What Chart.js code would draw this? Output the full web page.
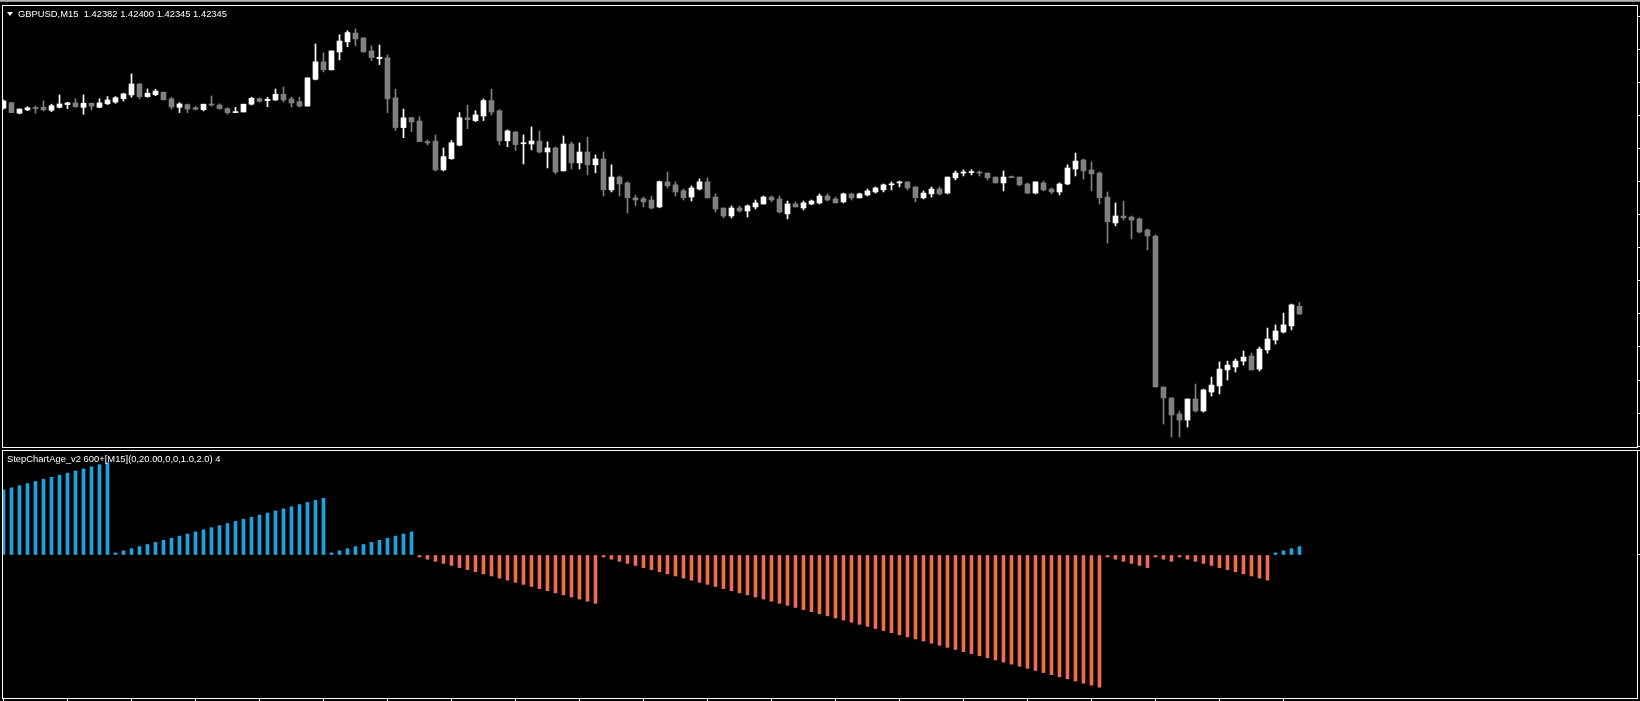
<!DOCTYPE html>
<html lang="en">
<head>
  <meta charset="UTF-8">
  <title>GBPUSD,M15 - StepChartAge</title>
  <script src="https://cdn.jsdelivr.net/npm/chart.js"></script>
  <style>
    html, body { margin: 0; padding: 0; background: #000; overflow: hidden; }
    body { width: 1640px; height: 701px; position: relative; }
    .topbar { position: absolute; left: 0; top: 0; width: 1640px; height: 2px; background: linear-gradient(#d0d0d0, #707070); }
    canvas { position: absolute; left: 0; }
    #priceChart { top: 0; }
    #ageChart { top: 449px; }
    .caption { position: absolute; color: #fff; font: 9.4px "Liberation Sans", Arial, sans-serif; line-height: 11px; white-space: pre; }
    #priceCaption { left: 18px; top: 8px; }
    #ageCaption { left: 7px; top: 453px; }
    .menu { position: absolute; left: 7px; top: 12px; width: 0; height: 0;
            border-left: 3px solid transparent; border-right: 3px solid transparent; border-top: 4px solid #fff; }
  </style>
</head>
<body>
  <div class="topbar"></div>
  <canvas id="priceChart" width="1640" height="449"></canvas>
  <canvas id="ageChart" width="1640" height="252"></canvas>
  <div class="menu"></div>
  <div class="caption" id="priceCaption"></div>
  <div class="caption" id="ageCaption"></div>
  <script>
    // GBPUSD M15, 163 bars, oldest first
    const symbol = 'GBPUSD';
    const period = 'M15';

    const opens = [
      1.43323, 1.43349, 1.43299, 1.43315, 1.43325, 1.43327, 1.43313, 1.43327, 1.43340, 1.43348,
      1.43327, 1.43346, 1.43327, 1.43344, 1.43352, 1.43368, 1.43386, 1.43438, 1.43378, 1.43387,
      1.43399, 1.43367, 1.43327, 1.43340, 1.43325, 1.43316, 1.43342, 1.43338, 1.43321, 1.43302,
      1.43305, 1.43342, 1.43368, 1.43359, 1.43362, 1.43389, 1.43367, 1.43354, 1.43333, 1.43460,
      1.43543, 1.43505, 1.43590, 1.43638, 1.43680, 1.43657, 1.43595, 1.43558, 1.43562, 1.43372,
      1.43231, 1.43278, 1.43262, 1.43164, 1.43167, 1.43030, 1.43083, 1.43147, 1.43277, 1.43264,
      1.43286, 1.43359, 1.43311, 1.43168, 1.43210, 1.43154, 1.43153, 1.43167, 1.43115, 1.43134,
      1.43025, 1.43153, 1.43063, 1.43115, 1.43054, 1.43082, 1.42935, 1.42996, 1.42968, 1.42897,
      1.42893, 1.42887, 1.42854, 1.42973, 1.42959, 1.42931, 1.42901, 1.42939, 1.42973, 1.42901,
      1.42849, 1.42811, 1.42849, 1.42835, 1.42854, 1.42868, 1.42901, 1.42892, 1.42821, 1.42868,
      1.42849, 1.42868, 1.42873, 1.42906, 1.42892, 1.42878, 1.42916, 1.42897, 1.42911, 1.42925,
      1.42935, 1.42959, 1.42968, 1.42973, 1.42949, 1.42897, 1.42916, 1.42939, 1.42920, 1.42992,
      1.43015, 1.43017, 1.43020, 1.43015, 1.42996, 1.42968, 1.42998, 1.42996, 1.42963, 1.42920,
      1.42968, 1.42939, 1.42925, 1.42963, 1.43034, 1.43077, 1.43030, 1.43015, 1.42901, 1.42778,
      1.42811, 1.42806, 1.42797, 1.42745, 1.42716, 1.41999, 1.41947, 1.41871, 1.41842, 1.41942,
      1.41885, 1.41975, 1.42004, 1.42080, 1.42094, 1.42122, 1.42146, 1.42084, 1.42175, 1.42222,
      1.42260, 1.42289, 1.42382
    ];
    const highs = [
      1.43362, 1.43352, 1.43319, 1.43330, 1.43333, 1.43357, 1.43342, 1.43386, 1.43351, 1.43368,
      1.43386, 1.43348, 1.43368, 1.43378, 1.43378, 1.43394, 1.43486, 1.43441, 1.43414, 1.43413,
      1.43399, 1.43375, 1.43349, 1.43343, 1.43332, 1.43342, 1.43381, 1.43344, 1.43325, 1.43327,
      1.43342, 1.43375, 1.43372, 1.43375, 1.43414, 1.43424, 1.43375, 1.43375, 1.43467, 1.43628,
      1.43585, 1.43595, 1.43672, 1.43691, 1.43699, 1.43657, 1.43619, 1.43623, 1.43576, 1.43414,
      1.43319, 1.43278, 1.43283, 1.43172, 1.43196, 1.43134, 1.43169, 1.43302, 1.43338, 1.43311,
      1.43367, 1.43414, 1.43316, 1.43220, 1.43213, 1.43196, 1.43234, 1.43215, 1.43163, 1.43139,
      1.43191, 1.43163, 1.43158, 1.43186, 1.43101, 1.43115, 1.43054, 1.43001, 1.42973, 1.42911,
      1.42901, 1.42906, 1.42977, 1.43020, 1.42973, 1.42939, 1.42954, 1.42987, 1.42992, 1.42916,
      1.42849, 1.42859, 1.42859, 1.42864, 1.42887, 1.42906, 1.42906, 1.42906, 1.42882, 1.42878,
      1.42882, 1.42887, 1.42916, 1.42916, 1.42901, 1.42920, 1.42920, 1.42920, 1.42939, 1.42949,
      1.42963, 1.42973, 1.42977, 1.42973, 1.42949, 1.42930, 1.42949, 1.42949, 1.42996, 1.43025,
      1.43030, 1.43031, 1.43025, 1.43015, 1.42996, 1.43025, 1.43001, 1.42996, 1.42968, 1.42973,
      1.42977, 1.42944, 1.42968, 1.43054, 1.43110, 1.43082, 1.43068, 1.43020, 1.42925, 1.42873,
      1.42882, 1.42811, 1.42802, 1.42749, 1.42721, 1.41999, 1.41947, 1.41885, 1.41942, 1.42013,
      1.41989, 1.42046, 1.42118, 1.42122, 1.42132, 1.42170, 1.42160, 1.42189, 1.42279, 1.42294,
      1.42350, 1.42393, 1.42400
    ];
    const lows = [
      1.43319, 1.43302, 1.43296, 1.43311, 1.43299, 1.43310, 1.43307, 1.43324, 1.43321, 1.43327,
      1.43294, 1.43315, 1.43325, 1.43340, 1.43346, 1.43357, 1.43375, 1.43367, 1.43375, 1.43382,
      1.43362, 1.43319, 1.43302, 1.43302, 1.43315, 1.43310, 1.43333, 1.43318, 1.43294, 1.43302,
      1.43305, 1.43338, 1.43352, 1.43330, 1.43359, 1.43352, 1.43329, 1.43329, 1.43333, 1.43457,
      1.43495, 1.43505, 1.43552, 1.43615, 1.43619, 1.43589, 1.43549, 1.43530, 1.43302, 1.43217,
      1.43183, 1.43211, 1.43164, 1.43148, 1.43025, 1.43025, 1.43080, 1.43144, 1.43226, 1.43259,
      1.43264, 1.43291, 1.43148, 1.43140, 1.43122, 1.43058, 1.43125, 1.43110, 1.43039, 1.43011,
      1.43025, 1.43034, 1.43034, 1.43006, 1.43016, 1.42906, 1.42925, 1.42906, 1.42825, 1.42859,
      1.42854, 1.42844, 1.42850, 1.42944, 1.42906, 1.42887, 1.42882, 1.42935, 1.42897, 1.42830,
      1.42802, 1.42802, 1.42830, 1.42806, 1.42844, 1.42868, 1.42878, 1.42825, 1.42797, 1.42854,
      1.42840, 1.42864, 1.42868, 1.42882, 1.42873, 1.42873, 1.42887, 1.42897, 1.42906, 1.42920,
      1.42925, 1.42935, 1.42949, 1.42935, 1.42878, 1.42892, 1.42901, 1.42911, 1.42916, 1.42982,
      1.43001, 1.43006, 1.43001, 1.42982, 1.42968, 1.42930, 1.42993, 1.42954, 1.42916, 1.42916,
      1.42930, 1.42916, 1.42911, 1.42959, 1.43001, 1.42987, 1.42930, 1.42868, 1.42683, 1.42764,
      1.42792, 1.42702, 1.42730, 1.42650, 1.41999, 1.41823, 1.41761, 1.41761, 1.41809, 1.41880,
      1.41880, 1.41956, 1.41966, 1.42032, 1.42070, 1.42103, 1.42080, 1.42075, 1.42160, 1.42203,
      1.42255, 1.42270, 1.42345
    ];
    const closes = [
      1.43357, 1.43302, 1.43319, 1.43325, 1.43321, 1.43315, 1.43335, 1.43343, 1.43348, 1.43330,
      1.43346, 1.43333, 1.43348, 1.43362, 1.43373, 1.43391, 1.43438, 1.43378, 1.43394, 1.43404,
      1.43363, 1.43329, 1.43343, 1.43319, 1.43318, 1.43342, 1.43338, 1.43321, 1.43302, 1.43305,
      1.43342, 1.43370, 1.43356, 1.43365, 1.43389, 1.43362, 1.43348, 1.43333, 1.43467, 1.43543,
      1.43505, 1.43595, 1.43642, 1.43682, 1.43652, 1.43590, 1.43563, 1.43565, 1.43367, 1.43231,
      1.43277, 1.43258, 1.43164, 1.43158, 1.43030, 1.43093, 1.43159, 1.43278, 1.43269, 1.43291,
      1.43359, 1.43305, 1.43168, 1.43215, 1.43150, 1.43159, 1.43167, 1.43115, 1.43134, 1.43020,
      1.43153, 1.43063, 1.43115, 1.43054, 1.43082, 1.42935, 1.42996, 1.42963, 1.42897, 1.42887,
      1.42878, 1.42849, 1.42974, 1.42954, 1.42925, 1.42897, 1.42944, 1.42973, 1.42897, 1.42844,
      1.42811, 1.42849, 1.42835, 1.42859, 1.42873, 1.42901, 1.42887, 1.42830, 1.42868, 1.42854,
      1.42873, 1.42882, 1.42906, 1.42887, 1.42873, 1.42916, 1.42897, 1.42916, 1.42930, 1.42944,
      1.42959, 1.42963, 1.42973, 1.42944, 1.42897, 1.42920, 1.42939, 1.42916, 1.42996, 1.43015,
      1.43020, 1.43021, 1.43015, 1.42992, 1.42968, 1.42996, 1.42993, 1.42959, 1.42920, 1.42973,
      1.42935, 1.42925, 1.42963, 1.43039, 1.43072, 1.43025, 1.43011, 1.42897, 1.42783, 1.42811,
      1.42802, 1.42792, 1.42735, 1.42716, 1.41999, 1.41947, 1.41866, 1.41842, 1.41942, 1.41885,
      1.41985, 1.42008, 1.42084, 1.42103, 1.42122, 1.42141, 1.42080, 1.42179, 1.42227, 1.42265,
      1.42294, 1.42389, 1.42345
    ];

    // StepChartAge_v2 histogram (bars since the step chart turned)
    const ages = [
      31, 32, 33, 34, 35, 36, 37, 38, 39, 40, 41, 42, 43, 44,
      1, 2, 3, 4, 5, 6, 7, 8, 9, 10, 11, 12, 13, 14, 15, 16, 17, 18, 19, 20, 21, 22, 23, 24, 25, 26, 27,
      1, 2, 3, 4, 5, 6, 7, 8, 9, 10, 11,
      -1, -2, -3, -4, -5, -6, -7, -8, -9, -10, -11, -12, -13, -14, -15, -16, -17, -18, -19, -20, -21, -22, -23,
      -1, -2, -3, -4, -5, -6, -7, -8, -9, -10, -11, -12, -13, -14, -15, -16, -17, -18, -19, -20,
      -21, -22, -23, -24, -25, -26, -27, -28, -29, -30, -31, -32, -33, -34, -35, -36, -37, -38, -39, -40,
      -41, -42, -43, -44, -45, -46, -47, -48, -49, -50, -51, -52, -53, -54, -55, -56, -57, -58, -59, -60,
      -61, -62, -63,
      -1, -2, -3, -4, -5, -6,
      -1, -2, -3,
      -1, -2, -3, -4, -5, -6, -7, -8, -9, -10, -11, -12,
      1, 2, 3, 4
    ];

    // axis tick positions (labels are off-screen in the original)
    const priceTicks = [1.43759, 1.43602, 1.43445, 1.43288, 1.43131, 1.42974, 1.42817,
                        1.42660, 1.42503, 1.42346, 1.42189, 1.42032, 1.41875, 1.41718];
    const timeTicks = [0, 8, 16, 24, 32, 40, 48, 56, 64, 72, 80, 88, 96, 104, 112, 120, 128, 136, 144, 152, 160];
    const ageTicks = [0, 50];

    const BULL = '#ffffff', BEAR = '#808080';
    const UP = '#1fa3e0', DOWN = '#f06a55';

    // 8 px per bar, first bar centre 1.5 px inside the frame
    const xMin = -0.1875, xMax = 204.1875;

    const candleColors = opens.map((o, i) => closes[i] >= o ? BULL : BEAR);
    const wickData = opens.map((o, i) => ({ x: i, y: [lows[i], highs[i]] }));
    const bodyData = opens.map((o, i) => ({ x: i, y: [o, closes[i]] }));
    const ageData = ages.map((v, i) => ({ x: i, y: v }));

    const panelFrame = {
      id: 'panelFrame',
      afterDraw(chart) {
        const { ctx, chartArea: a } = chart;
        ctx.save();
        ctx.strokeStyle = '#ffffff';
        ctx.lineWidth = 1;
        ctx.strokeRect(a.left + 0.5, a.top + 0.5, a.right - a.left, a.bottom - a.top);
        ctx.restore();
      }
    };

    const tickGrid = { drawOnChartArea: false, drawTicks: true, tickLength: 3, color: '#ffffff', lineWidth: 1, offset: false };

    new Chart(document.getElementById('priceChart'), {
      type: 'bar',
      data: {
        datasets: [
          { data: wickData, backgroundColor: candleColors, barThickness: 1, grouped: false, order: 2 },
          { data: bodyData, backgroundColor: candleColors, barThickness: 5, minBarLength: 1, grouped: false, order: 1 }
        ]
      },
      options: {
        responsive: false,
        animation: false,
        devicePixelRatio: 1,
        layout: { padding: { left: 2, top: 5, right: 0, bottom: 2 } },
        plugins: { legend: { display: false }, tooltip: { enabled: false } },
        scales: {
          x: { type: 'linear', min: xMin, max: xMax, offset: false, display: false },
          y: {
            position: 'right', min: 1.41714, max: 1.43813,
            border: { display: false },
            grid: tickGrid,
            ticks: { display: false },
            afterBuildTicks: s => { s.ticks = priceTicks.map(v => ({ value: v })); }
          }
        }
      },
      plugins: [panelFrame]
    });

    new Chart(document.getElementById('ageChart'), {
      type: 'bar',
      data: {
        datasets: [{
          data: ageData,
          backgroundColor: ages.map(v => v >= 0 ? UP : DOWN),
          barThickness: 3,
          grouped: false
        }]
      },
      options: {
        responsive: false,
        animation: false,
        devicePixelRatio: 1,
        layout: { padding: { left: 2, top: 1, right: 0, bottom: 0 } },
        plugins: { legend: { display: false }, tooltip: { enabled: false } },
        scales: {
          x: {
            type: 'linear', min: xMin, max: xMax, offset: false, position: 'bottom',
            border: { display: false },
            grid: tickGrid,
            ticks: { display: false },
            afterBuildTicks: s => { s.ticks = timeTicks.map(v => ({ value: v })); }
          },
          y: {
            position: 'right', min: -68.1, max: 50,
            border: { display: false },
            grid: tickGrid,
            ticks: { display: false },
            afterBuildTicks: s => { s.ticks = ageTicks.map(v => ({ value: v })); }
          }
        }
      },
      plugins: [panelFrame]
    });

    const last = opens.length - 1;
    document.getElementById('priceCaption').textContent =
      symbol + ',' + period + '  ' +
      [opens[last], highs[last], lows[last], closes[last]].map(v => v.toFixed(5)).join(' ');
    document.getElementById('ageCaption').textContent =
      'StepChartAge_v2 600+[' + period + '](0,20.00,0,0,1.0,2.0) ' + ages[last];
  </script>
</body>
</html>
